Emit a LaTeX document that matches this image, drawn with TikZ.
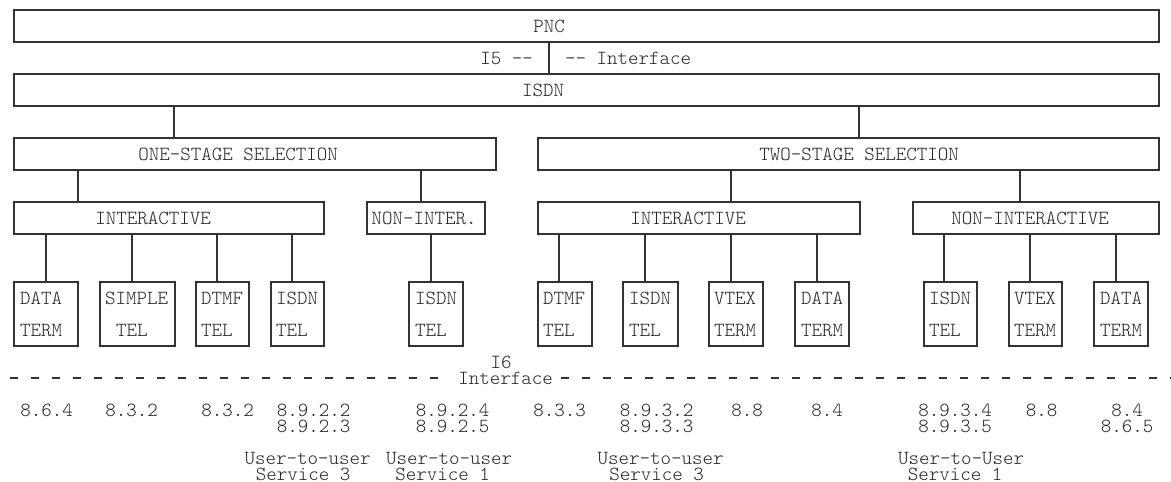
\documentclass[tikz,border=0pt]{standalone}
\usepackage{fontspec}
\setmonofont{Latin Modern Mono Light}
\usetikzlibrary{fit}
\begin{document}
\begin{tikzpicture}[x=1pt,y=-1pt,
  box/.style={draw=black!80,line width=1.2pt,inner sep=0pt},
  txt/.style={font=\ttfamily\fontsize{20}{22}\selectfont,text=black!85,inner sep=0pt},
  lt/.style={txt,anchor=west},
  wire/.style={draw=black!80,line width=1.2pt},
  ifline/.style={draw=black!80,line width=1.1pt,dash pattern=on 8pt off 13pt}]
\fill[white] (0,0) rectangle (1171,482);
\useasboundingbox (0,0) rectangle (1171,482);
% boxes
\node[box,fit={(14,10)(1159,42)}] (pnc) {};
\node[box,fit={(14,74)(1159,106)}] (isdn) {};
\node[box,fit={(14,138)(496,170)}] (one) {};
\node[box,fit={(538,138)(1159,170)}] (two) {};
\node[box,fit={(14,202)(324,234)}] (intL) {};
\node[box,fit={(367,202)(485,234)}] (nonL) {};
\node[box,fit={(538,202)(860,234)}] (intR) {};
\node[box,fit={(913,202)(1159,234)}] (nonR) {};
\foreach \n/\a/\b in {l1/14/78,l2/100/175,l3/196/249,l4/271/324,l5/409/463,
  l6/538/592,l7/623/678,l8/709/763,l9/795/849,l10/924/977,l11/1009/1062,l12/1094/1148}
  {\node[box,fit={(\a,282)(\b,346)}] (\n) {};}
% top texts
\node[txt] (tpnc) at (549,26) {PNC};
\node[txt] (tisdn) at (543,90) {ISDN};
\node[txt,anchor=east] (ti5) at (533,58) {I5 --};
\node[lt] (tif) at (565,58) {-- Interface};
\draw[wire] (pnc.south -| 549,0) -- (isdn.north -| 549,0);
\node[txt] (tone) at (238,154) {ONE-STAGE SELECTION};
\node[txt] (ttwo) at (859,154) {TWO-STAGE SELECTION};
\node[txt] (tintL) at (153,218) {INTERACTIVE};
\node[txt] (tnonL) at (424,218) {NON-INTER.};
\node[txt] (tintR) at (688,218) {INTERACTIVE};
\node[txt] (tnonR) at (1030,218) {NON-INTERACTIVE};
% leaf texts
\foreach \i/\x/\xb/\s/\t in {1/20/20/DATA/TERM,2/105/116/SIMPLE/TEL,3/201/201/DTMF/TEL,4/276/276/ISDN/TEL,
  5/415/415/ISDN/TEL,6/543/543/DTMF/TEL,7/629/629/ISDN/TEL,8/714/714/VTEX/TERM,9/801/801/DATA/TERM,
  10/929/929/ISDN/TEL,11/1014/1014/VTEX/TERM,12/1100/1100/DATA/TERM}
  {\node[lt] (ta\i) at (\x,298) {\s};
   \node[lt] (tb\i) at (\xb,330) {\t};}
% wires
\draw[wire] (isdn.south -| 174,0) -- (one.north -| 174,0);
\draw[wire] (isdn.south -| 859,0) -- (two.north -| 859,0);
\draw[wire] (one.south -| 78,0) -- (intL.north -| 78,0);
\draw[wire] (one.south -| 421,0) -- (nonL.north -| 421,0);
\draw[wire] (two.south -| 731,0) -- (intR.north -| 731,0);
\draw[wire] (two.south -| 1020,0) -- (nonR.north -| 1020,0);
\foreach \p/\c/\x in {intL/l1/46,intL/l2/132,intL/l3/217,intL/l4/292,nonL/l5/431,
  intR/l6/559,intR/l7/645,intR/l8/731,intR/l9/817,nonR/l10/944,nonR/l11/1030,nonR/l12/1116}
  {\draw[wire] (\p.south -| \x,0) -- (\c.north -| \x,0);}
% interface I6
\node[txt] (ti6) at (501,362) {I6};
\node[txt,inner xsep=8pt] (tiface) at (505.5,378) {Interface};
\coordinate (dl) at (10,378);
\coordinate (dr) at (1171,378);
\draw[ifline] (dl) -- (tiface.west);
\draw[ifline] (tiface.east) -- (dr);
% references
\node[txt] (n1) at (46.5,410) {8.6.4};
\node[txt] (n2) at (131.5,410) {8.3.2};
\node[txt] (n3) at (227.5,410) {8.3.2};
\node[txt] (n4) at (313.5,410) {8.9.2.2};
\node[txt] (n4b) at (313.5,426) {8.9.2.3};
\node[txt] (n5) at (452.5,410) {8.9.2.4};
\node[txt] (n5b) at (452.5,426) {8.9.2.5};
\node[txt] (n6) at (559.5,410) {8.3.3};
\node[txt] (n7) at (656.5,410) {8.9.3.2};
\node[txt] (n7b) at (656.5,426) {8.9.3.3};
\node[txt] (n8) at (747,410) {8.8};
\node[txt] (n9) at (827,410) {8.4};
\node[txt] (n10) at (955,410) {8.9.3.4};
\node[txt] (n10b) at (955,426) {8.9.3.5};
\node[txt] (n11) at (1041.5,410) {8.8};
\node[txt] (n12) at (1127,410) {8.4};
\node[txt] (n12b) at (1127,426) {8.6.5};
% services
\node[txt] (u1) at (307.5,458) {User-to-user};
\node[txt] (s1) at (303,474) {Service 3};
\node[txt] (u2) at (449,458) {User-to-user};
\node[txt] (s2) at (442.5,474) {Service 1};
\node[txt] (u3) at (660.5,458) {User-to-user};
\node[txt] (s3) at (656.5,474) {Service 3};
\node[txt] (u4) at (961,458) {User-to-User};
\node[txt] (s4) at (955,474) {Service 1};
\end{tikzpicture}
\end{document}
